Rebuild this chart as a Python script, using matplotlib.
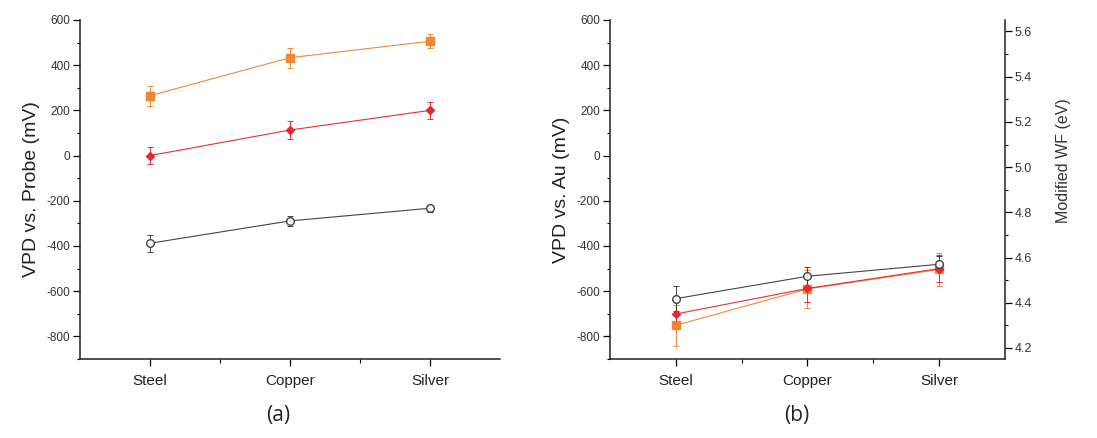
import matplotlib.pyplot as plt
from matplotlib.ticker import MultipleLocator, FixedLocator

plt.rcParams['font.family'] = ['Liberation Sans', 'DejaVu Sans']
plt.rcParams['axes.unicode_minus'] = False

metals = ['Steel', 'Copper', 'Silver']
xpos = [1, 2, 3]

# panel (a): VPD vs. probe (mV)
a_orange = [265, 433, 506]
a_orange_err = [45, 45, 30]
a_red = [0, 113, 200]
a_red_err = [38, 38, 38]
a_black = [-388, -289, -233]
a_black_err = [38, 22, 15]

# panel (b): VPD vs. Au (mV)
b_black = [-633, -534, -481]
b_black_err = [55, 40, 38]
b_red = [-701, -588, -500]
b_red_err = [60, 60, 60]
b_orange = [-751, -590, -504]
b_orange_err = [90, 85, 75]

ORANGE = '#f3822a'
RED = '#e2252f'
BLACK = '#3a3a3a'

fig = plt.figure(figsize=(10.97, 4.38), dpi=100)
ax1 = fig.add_axes([0.0729, 0.1804, 0.3829, 0.774])
ax2 = fig.add_axes([0.556, 0.1804, 0.3601, 0.774])


def series(ax, y, err, color, marker, mfc, ms):
    ax.errorbar(xpos, y, yerr=err, color=color, marker=marker, mfc=mfc,
                mec=color, ms=ms, lw=0.8, elinewidth=0.7, capsize=2.5,
                capthick=0.7, alpha=0.95, zorder=3)


def style(ax, ylabel):
    ax.set_xlim(0.5, 3.5)
    ax.set_ylim(-900, 600)
    ax.yaxis.set_major_locator(FixedLocator([-800, -600, -400, -200, 0, 200, 400, 600]))
    ax.yaxis.set_minor_locator(MultipleLocator(100))
    ax.set_xticks(xpos)
    ax.set_xticklabels(metals, fontsize=11, color='#222222')
    ax.xaxis.set_minor_locator(FixedLocator([1.5, 2.5]))
    ax.tick_params(axis='y', which='major', direction='out', length=5, width=0.9,
                   labelsize=8.5, labelcolor='#333333', pad=2)
    ax.tick_params(axis='y', which='minor', direction='out', length=2.5, width=0.8)
    ax.tick_params(axis='x', which='major', direction='out', length=5, width=0.9, pad=6)
    ax.tick_params(axis='x', which='minor', direction='out', length=3, width=0.8)
    for s in ['top', 'right']:
        ax.spines[s].set_visible(False)
    for s in ['left', 'bottom']:
        ax.spines[s].set_linewidth(1.1)
        ax.spines[s].set_color('#222222')
    ax.set_ylabel(ylabel, fontsize=14, color='#222222', labelpad=5)


series(ax1, a_orange, a_orange_err, ORANGE, 's', ORANGE, 5.5)
series(ax1, a_red, a_red_err, RED, 'D', RED, 4.5)
series(ax1, a_black, a_black_err, BLACK, 'o', 'white', 5.5)
style(ax1, 'VPD vs. Probe (mV)')

series(ax2, b_orange, b_orange_err, ORANGE, 's', ORANGE, 5.5)
series(ax2, b_red, b_red_err, RED, 'D', RED, 4.5)
series(ax2, b_black, b_black_err, BLACK, 'o', 'white', 5.5)
style(ax2, 'VPD vs. Au (mV)')

# work function axis on the right
ax3 = ax2.twinx()
ax3.set_ylim(4.151, 5.651)
ax3.yaxis.set_major_locator(MultipleLocator(0.2))
ax3.yaxis.set_minor_locator(MultipleLocator(0.1))
ax3.yaxis.set_major_formatter(plt.FormatStrFormatter('%.1f'))
ax3.tick_params(axis='y', which='major', direction='out', length=5, width=0.9,
                labelsize=9, labelcolor='#333333', pad=2)
ax3.tick_params(axis='y', which='minor', direction='out', length=2.5, width=0.8)
for s in ['top', 'left', 'bottom']:
    ax3.spines[s].set_visible(False)
ax3.spines['right'].set_linewidth(1.1)
ax3.spines['right'].set_color('#222222')
ax3.set_ylabel('Modified WF (eV)', fontsize=11.5, color='#333333')
ax3.yaxis.set_label_coords(1.13, 0.584)

fig.text(0.2534, 0.052, '(a)', fontsize=15, ha='center', va='center',
         family=['Open Sans', 'DejaVu Sans'], color='#222222')
fig.text(0.7265, 0.052, '(b)', fontsize=15, ha='center', va='center',
         family=['Open Sans', 'DejaVu Sans'], color='#222222')

fig.savefig('out.png', dpi=100)
